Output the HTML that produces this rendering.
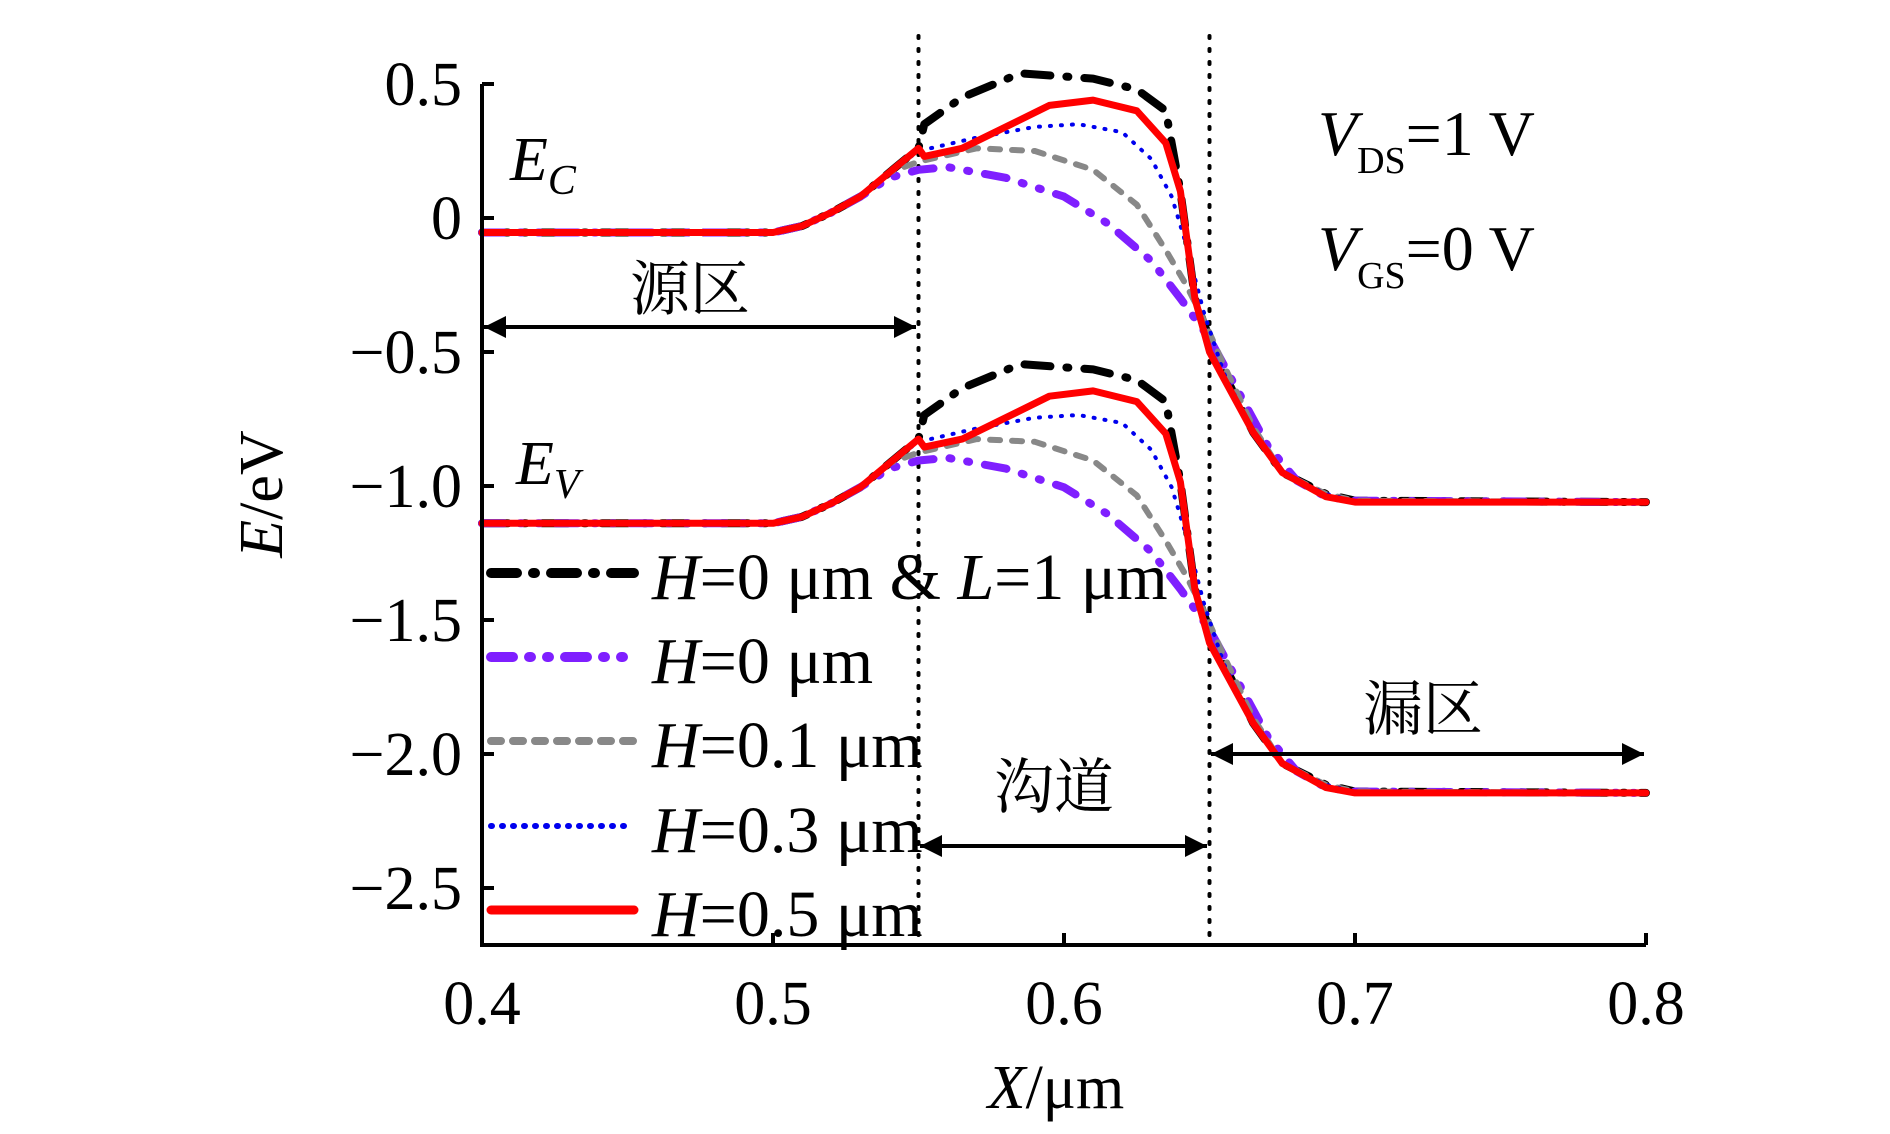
<!DOCTYPE html>
<html><head><meta charset="utf-8"><style>
body{margin:0;background:#fff}
svg{display:block}
text{font-family:"Liberation Serif","Noto Serif CJK SC",serif;fill:#000}
</style></head><body>
<svg id="chart" width="1890" height="1134" viewBox="0 0 1890 1134" xmlns="http://www.w3.org/2000/svg">
<defs>
<marker id="ah2" viewBox="0 0 10 10" refX="10" refY="5" markerWidth="36" markerHeight="22" orient="auto-start-reverse" markerUnits="userSpaceOnUse"><path d="M0,0 L10,5 L0,10 z" fill="#000"/></marker>
</defs>
<g id="plot"></g>
<g id="axes"></g>
<g id="legend"></g>
<text x="510" y="180" font-size="62" font-style="italic">E<tspan font-size="42" dy="14">C</tspan></text>
<text x="516" y="484" font-size="62" font-style="italic">E<tspan font-size="42" dy="14">V</tspan></text>
<text x="1318" y="155" font-size="64"><tspan font-style="italic">V</tspan><tspan font-size="38" dy="18">DS</tspan><tspan dy="-18">=1 V</tspan></text>
<text x="1318" y="270" font-size="64"><tspan font-style="italic">V</tspan><tspan font-size="38" dy="18">GS</tspan><tspan dy="-18">=0 V</tspan></text>
<text x="690" y="310" font-size="60" text-anchor="middle">源区</text>
<text x="1054" y="808" font-size="60" text-anchor="middle">沟道</text>
<text x="1423" y="730" font-size="60" text-anchor="middle">漏区</text>
<text transform="translate(282,494) rotate(-90)" font-size="62" text-anchor="middle"><tspan font-style="italic">E</tspan>/eV</text>
<text x="1056" y="1108" font-size="62" text-anchor="middle"><tspan font-style="italic">X</tspan>/μm</text>
</svg>
<script>
// data (x in μm, Ec in eV)
const xTicks = [0.4, 0.5, 0.6, 0.7, 0.8];
const xTickLabels = ["0.4", "0.5", "0.6", "0.7", "0.8"];
const yTicks = [0.5, 0, -0.5, -1.0, -1.5, -2.0, -2.5];
const yTickLabels = ["0.5", "0", "\u22120.5", "\u22121.0", "\u22121.5", "\u22122.0", "\u22122.5"];
const seriesNames = ["H=0 μm & L=1 μm", "H=0 μm", "H=0.1 μm", "H=0.3 μm", "H=0.5 μm"];
const bandGap = 1.085;
const ecBlackX = [0.4,0.5,0.51,0.52,0.53,0.54,0.55,0.552,0.565,0.585,0.61,0.625,0.635,0.64,0.645,0.65,0.655,0.665,0.675,0.69,0.7,0.8];
const ecBlackY = [-0.054,-0.054,-0.03,0.02,0.08,0.17,0.26,0.35,0.45,0.54,0.52,0.48,0.4,0.1,-0.3,-0.45,-0.58,-0.8,-0.95,-1.03,-1.055,-1.06];
const ecPurpleX = [0.4,0.5,0.51,0.52,0.53,0.54,0.55,0.56,0.58,0.6,0.615,0.63,0.64,0.65,0.66,0.67,0.68,0.69,0.7,0.8];
const ecPurpleY = [-0.054,-0.054,-0.03,0.02,0.08,0.15,0.18,0.19,0.15,0.08,-0.02,-0.16,-0.3,-0.45,-0.65,-0.85,-0.98,-1.04,-1.055,-1.06];
const ecGrayX = [0.4,0.5,0.51,0.52,0.53,0.54,0.55,0.57,0.59,0.61,0.625,0.635,0.642,0.648,0.655,0.665,0.675,0.69,0.7,0.8];
const ecGrayY = [-0.054,-0.054,-0.03,0.02,0.08,0.17,0.21,0.26,0.25,0.18,0.05,-0.12,-0.25,-0.38,-0.55,-0.78,-0.95,-1.03,-1.055,-1.06];
const ecBlueX = [0.4,0.5,0.51,0.52,0.53,0.54,0.55,0.57,0.59,0.605,0.62,0.63,0.637,0.642,0.648,0.655,0.665,0.675,0.69,0.7,0.8];
const ecBlueY = [-0.054,-0.054,-0.03,0.02,0.08,0.17,0.25,0.3,0.34,0.35,0.32,0.22,0.08,-0.1,-0.35,-0.58,-0.8,-0.95,-1.03,-1.055,-1.06];
const ecRedX = [0.4,0.5,0.51,0.52,0.53,0.54,0.55,0.552,0.565,0.58,0.595,0.61,0.625,0.635,0.64,0.645,0.65,0.655,0.665,0.675,0.69,0.7,0.8];
const ecRedY = [-0.054,-0.054,-0.03,0.02,0.08,0.17,0.26,0.23,0.26,0.34,0.42,0.44,0.4,0.28,0.1,-0.3,-0.5,-0.6,-0.8,-0.95,-1.04,-1.06,-1.06];

const NS = "http://www.w3.org/2000/svg";
const X0 = 482, X1 = 1646, Y0 = 218, YPER = 268, AXB = 945;
function sx(v){ return X0 + (v - 0.4) / 0.4 * (X1 - X0); }
function sy(v){ return Y0 - v * YPER; }
function mk(tag, attrs, parent){ const e = document.createElementNS(NS, tag); for (const k in attrs) e.setAttribute(k, attrs[k]); parent.appendChild(e); return e; }

const svg = document.getElementById('chart');
const plot = document.getElementById('plot');
const axes = document.getElementById('axes');
const legend = document.getElementById('legend');

[0.55, 0.65].forEach(function(v, i){
  const l = mk('line', {x1: sx(v), x2: sx(v), y1: 36, y2: AXB, stroke: '#000', 'stroke-width': 4, 'stroke-dasharray': '2 11', 'stroke-linecap': 'round'}, plot);
  
  
});

const styles = [
  {color: '#000', w: 8, dash: '26 16 2 16'},
  {color: '#7f1fff', w: 8, dash: '22 16 2 16 2 16'},
  {color: '#888', w: 6, dash: '10 12'},
  {color: '#0000ee', w: 4, dash: '1 10'},
  {color: '#ff0000', w: 7, dash: ''}
];
const allX = [ecBlackX, ecPurpleX, ecGrayX, ecBlueX, ecRedX];
const allY = [ecBlackY, ecPurpleY, ecGrayY, ecBlueY, ecRedY];
const slug = ['h0-l1', 'h0', 'h0-1', 'h0-3', 'h0-5'];

function pathD(xs, ys, off){
  return xs.map(function(x, i){ return (i ? 'L' : 'M') + sx(x).toFixed(1) + ',' + sy(ys[i] - off).toFixed(1); }).join(' ');
}
for (let s = 0; s < 5; s++) {
  [0, bandGap].forEach(function(off, b){
    const p = mk('path', {d: pathD(allX[s], allY[s], off), fill: 'none', stroke: styles[s].color, 'stroke-width': styles[s].w, 'stroke-linecap': 'round', 'stroke-linejoin': 'round'}, plot);
    if (styles[s].dash) p.setAttribute('stroke-dasharray', styles[s].dash);
    
    
  });
}

const ax = mk('path', {d: 'M' + X0 + ',84 L' + X0 + ',' + AXB + ' L' + X1 + ',' + AXB, fill: 'none', stroke: '#000', 'stroke-width': 4}, axes);


xTicks.forEach(function(v, i){
  const t = mk('line', {x1: sx(v), x2: sx(v), y1: AXB, y2: AXB - 12, stroke: '#000', 'stroke-width': 4}, axes);
  
  
  const tx = mk('text', {x: sx(v), y: 1024, 'font-size': 62, 'text-anchor': 'middle'}, axes);
  tx.textContent = xTickLabels[i];
  
  
});
yTicks.forEach(function(v, i){
  const t = mk('line', {x1: X0, x2: X0 + 12, y1: sy(v), y2: sy(v), stroke: '#000', 'stroke-width': 4}, axes);
  
  
  const tx = mk('text', {x: 462, y: sy(v) + 21, 'font-size': 62, 'text-anchor': 'end'}, axes);
  tx.textContent = yTickLabels[i];
  
  
});

[[482, 918, 327, 'source-arrow'], [918, 1209, 846, 'channel-arrow'], [1209, 1646, 754, 'drain-arrow']].forEach(function(a){
  const l = mk('line', {x1: a[0] + 2, x2: a[1] - 2, y1: a[2], y2: a[2], stroke: '#000', 'stroke-width': 4, 'marker-start': 'url(#ah2)', 'marker-end': 'url(#ah2)'}, svg);
  
  
});

const rowY = [576, 660, 744, 829, 913];
for (let s = 0; s < 5; s++) {
  const l = mk('line', {x1: 491, x2: 634, y1: rowY[s] - 3, y2: rowY[s] - 3, stroke: styles[s].color, 'stroke-width': styles[s].w + 2, 'stroke-linecap': 'round'}, legend);
  if (styles[s].dash) l.setAttribute('stroke-dasharray', styles[s].dash);
  
  
  const t = mk('text', {x: 652, y: rowY[s] + 23, 'font-size': 66}, legend);
  
  
  const parts = seriesNames[s].split(/(H|L)(?==)/);
  parts.forEach(function(p){
    if (!p) return;
    const ts = mk('tspan', {}, t);
    if (p === 'H' || p === 'L') ts.setAttribute('font-style', 'italic');
    ts.textContent = p;
  });
}
</script>
</body></html>
